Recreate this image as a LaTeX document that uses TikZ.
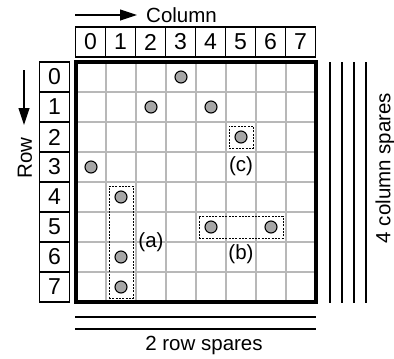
\documentclass[tikz,border=0pt]{standalone}
\usepackage{fontspec}
\setmainfont{Liberation Sans}
\usetikzlibrary{arrows.meta,fit}
\begin{document}
\begin{tikzpicture}[x=1pt,y=-1pt,
  hdr/.style={draw=black,line width=1.2pt,minimum width=30pt,minimum height=30pt,inner sep=0pt,font=\fontsize{23}{26}\selectfont},
  lbl/.style={font=\fontsize{20.5}{24}\selectfont,inner sep=0pt},
  dot/.style={circle,draw=black,line width=1.1pt,fill=gray!70,minimum size=12pt,inner sep=0pt},
  grp/.style={draw=black,line width=1pt,dash pattern=on 2pt off 1.3pt,inner xsep=12pt,inner ysep=11pt},
  gridline/.style={draw=black!28,line width=1.8pt},
  spare/.style={draw=black,line width=1.6pt},
  bigarrow/.style={line width=1.2pt,-{Triangle[length=17pt,width=11pt]}}]
\useasboundingbox (0,0) rectangle (394,359);
% headers
\foreach \i in {0,...,7}{
  \node[hdr] (c\i) at (90.5+30*\i,42) {\i};
  \node[hdr] (r\i) at (54.5,77+30*\i) {\i};
}
% grid
\foreach \i in {1,...,7}{
  \draw[gridline] (76+30*\i,62) -- (76+30*\i,302);
  \draw[gridline] (76,62+30*\i) -- (316,62+30*\i);
}
\draw[line width=3.6pt] (76,62) rectangle (316,302);
% dots (row,col)
\foreach \r/\c in {0/3,1/2,1/4,2/5,3/0,4/1,5/4,5/6,6/1,7/1}{
  \node[dot] (d\r\c) at (91+30*\c,77+30*\r) {};
}
% groups
\node[grp,fit=(d41.center)(d71.center)] (ga) {};
\node[grp,fit=(d54.center)(d56.center)] (gb) {};
\node[grp,fit=(d25.center)] (gc) {};
\node[lbl] (la) at (151,242) {(a)};
\node[lbl] (lb) at (241,254) {(b)};
\node[lbl] (lc) at (241,166) {(c)};
% arrows and titles
\coordinate (ca0) at (75,15);
\coordinate (ca1) at (137,15);
\draw[bigarrow] (ca0) -- (ca1);
\node[lbl,anchor=west] (coltitle) at (146,15) {Column};
\coordinate (ra0) at (24,70);
\coordinate (ra1) at (24,125);
\draw[bigarrow] (ra0) -- (ra1);
\node[lbl,rotate=90] (rowtitle) at (25,158) {Row};
% spares
\foreach \k in {0,...,3}{
  \coordinate (cs\k a) at (330+12*\k,62);
  \coordinate (cs\k b) at (330+12*\k,303);
  \draw[spare] (cs\k a) -- (cs\k b);
}
\foreach \k in {0,1}{
  \coordinate (rs\k a) at (75,317+12*\k);
  \coordinate (rs\k b) at (316,317+12*\k);
  \draw[spare] (rs\k a) -- (rs\k b);
}
\node[lbl,rotate=90] (cspare) at (385,168) {4 column spares};
\node[lbl] (rspare) at (204,345) {2 row spares};
\end{tikzpicture}
\end{document}
